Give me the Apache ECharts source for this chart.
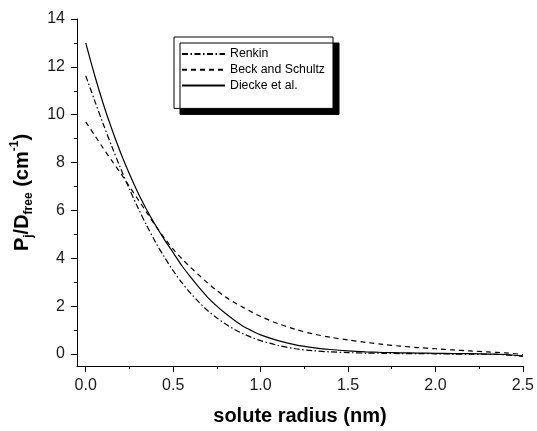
<!DOCTYPE html>
<html>
<head>
<meta charset="utf-8">
<script src="https://cdn.jsdelivr.net/npm/echarts@6/dist/echarts.min.js"></script>
<style>
html,body{margin:0;padding:0;background:#fff;}
#chart{width:537px;height:431px;}
</style>
</head>
<body>
<div id="chart"></div>
<script>
// solute radius (nm)
const xValues = [0,0.05,0.1,0.15,0.2,0.25,0.3,0.35,0.4,0.45,0.5,0.55,0.6,0.65,0.7,0.75,0.8,0.85,0.9,0.95,1.0,
  1.1,1.2,1.3,1.4,1.5,1.6,1.7,1.8,1.9,2.0,2.1,2.2,2.3,2.4,2.5];
const renkin = [11.63,10.61,9.61,8.66,7.75,6.89,6.09,5.35,4.66,4.05,3.48,2.98,2.54,2.15,1.80,1.51,1.25,1.03,0.85,0.69,0.56,
  0.36,0.22,0.14,0.09,0.06,0.04,0.03,0.02,0.015,0.01,0.0,0.0,-0.01,-0.03,-0.1];
const beckSchultz = [9.7,9.15,8.6,8.07,7.55,7.0,6.45,5.9,5.35,4.85,4.38,3.98,3.62,3.28,2.95,2.65,2.38,2.15,1.95,1.75,1.57,
  1.27,1.03,0.84,0.7,0.59,0.49,0.4,0.33,0.27,0.22,0.17,0.13,0.09,0.05,-0.02];
const diecke = [13.0,11.67,10.46,9.38,8.40,7.52,6.72,6.01,5.37,4.78,4.24,3.69,3.21,2.76,2.35,2.0,1.69,1.41,1.16,0.97,0.80,
  0.56,0.385,0.27,0.19,0.13,0.09,0.065,0.05,0.04,0.03,0.02,0.015,0.0,-0.02,-0.08];
const seriesNames = ['Renkin','Beck and Schultz','Diecke et al.'];
const xMajorTicks = [0,0.5,1.0,1.5,2.0,2.5];
const xMinorTicks = [0.25,0.75,1.25,1.75,2.25];
const yMajorTicks = [0,2,4,6,8,10,12,14];
const yMinorTicks = [1,3,5,7,9,11,13];

const FONT = '"Liberation Sans", Arial, Helvetica, sans-serif';
const pairs = ys => xValues.map((x,i)=>[x, ys[i]]);

const chart = echarts.init(document.getElementById('chart'), null, {renderer:'canvas'});
const axisLineStyle = {color:'#000', width:1};
chart.setOption({
  animation:false,
  backgroundColor:'#fff',
  textStyle:{fontFamily:FONT},
  grid:{left:77, right:14, top:19, bottom:60, containLabel:false},
  legend:{
    show:true,
    orient:'vertical',
    left:174, top:37,
    data:seriesNames,
    itemWidth:43, itemHeight:14, itemGap:3.7,
    padding:[11,8,17,7],
    backgroundColor:'#fff',
    borderColor:'#000', borderWidth:1,
    shadowColor:'#000', shadowBlur:0, shadowOffsetX:6, shadowOffsetY:6,
    itemStyle:{color:'rgba(0,0,0,0)', borderColor:'rgba(0,0,0,0)', borderWidth:0},
    textStyle:{fontFamily:FONT, fontSize:12.3, color:'#000'}
  },
  xAxis:[{
    type:'value', min:-0.05, max:2.5,
    axisLine:{show:true, lineStyle:axisLineStyle, onZero:false},
    axisTick:{show:true, customValues:xMajorTicks, length:6, lineStyle:axisLineStyle},
    axisLabel:{customValues:xMajorTicks, formatter:v=>v.toFixed(1), fontSize:16, color:'#1a1a1a', margin:12, fontFamily:FONT},
    splitLine:{show:false},
    name:'solute radius (nm)', nameLocation:'middle', nameGap:40,
    nameTextStyle:{fontSize:20, fontWeight:'bold', color:'#000', fontFamily:FONT}
  },{
    type:'value', min:-0.05, max:2.5, position:'bottom',
    axisLine:{show:false, onZero:false},
    axisTick:{show:true, customValues:xMinorTicks, length:3, lineStyle:axisLineStyle},
    axisLabel:{show:false}, splitLine:{show:false}
  }],
  yAxis:[{
    type:'value', min:-0.5, max:14,
    axisLine:{show:true, lineStyle:axisLineStyle, onZero:false},
    axisTick:{show:true, customValues:yMajorTicks, length:6, lineStyle:axisLineStyle},
    axisLabel:{customValues:yMajorTicks, fontSize:16, color:'#1a1a1a', margin:12, fontFamily:FONT},
    splitLine:{show:false},
    name:'{b|P}{sub|j}{b|/D}{sub|free}{b| (cm}{sup|-1}{b|)}',
    nameLocation:'middle', nameRotate:90, nameGap:42,
    nameTextStyle:{
      color:'#000', fontFamily:FONT,
      rich:{
        b:{fontSize:20, fontWeight:'bold', lineHeight:26, color:'#000', fontFamily:FONT},
        sub:{fontSize:12, fontWeight:'bold', lineHeight:12, verticalAlign:'bottom', color:'#000', fontFamily:FONT},
        sup:{fontSize:12, fontWeight:'bold', lineHeight:12, verticalAlign:'top', color:'#000', fontFamily:FONT}
      }
    }
  },{
    type:'value', min:-0.5, max:14, position:'left',
    axisLine:{show:false, onZero:false},
    axisTick:{show:true, customValues:yMinorTicks, length:3, lineStyle:axisLineStyle},
    axisLabel:{show:false}, splitLine:{show:false}
  }],
  series:[
    {name:seriesNames[0], type:'line', data:pairs(renkin), showSymbol:false, symbol:'none', smooth:0.3,
     lineStyle:{color:'#000', width:1.2, type:[6,2.5,1.5,2.5]}, itemStyle:{color:'#000'}},
    {name:seriesNames[1], type:'line', data:pairs(beckSchultz), showSymbol:false, symbol:'none', smooth:0.3,
     lineStyle:{color:'#000', width:1.2, type:[5,4]}, itemStyle:{color:'#000'}},
    {name:seriesNames[2], type:'line', data:pairs(diecke), showSymbol:false, symbol:'none', smooth:0.3,
     lineStyle:{color:'#000', width:1.2, type:'solid'}, itemStyle:{color:'#000'}}
  ]
});
</script>
</body>
</html>
